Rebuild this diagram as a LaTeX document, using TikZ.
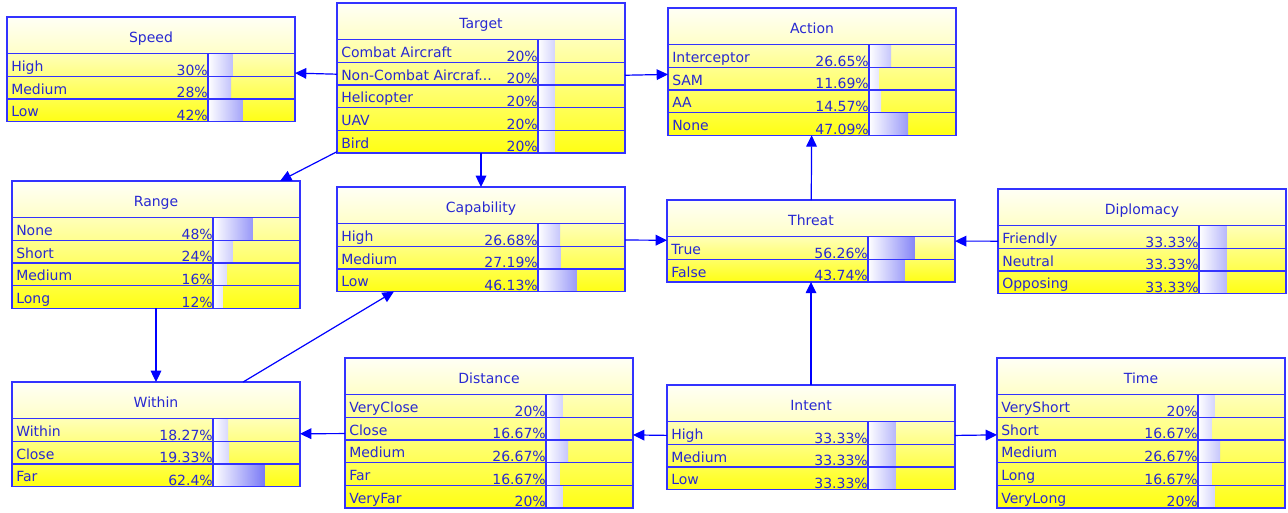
\documentclass[tikz,border=0pt]{standalone}
\usepackage{fontspec}
\setmainfont{DejaVu Sans}
\usetikzlibrary{arrows.meta,calc}
\definecolor{boxblue}{RGB}{51,51,255}
\definecolor{txtblue}{RGB}{40,40,210}
\definecolor{linkblue}{RGB}{0,0,255}
\definecolor{hdtop}{RGB}{255,255,246}
\definecolor{hdbot}{RGB}{255,255,200}
\definecolor{rowtop}{RGB}{255,255,185}
\definecolor{rowbot}{RGB}{255,255,20}
\definecolor{barblue}{RGB}{30,30,240}
\newcommand{\ncaf}{Non-Combat Aircraf...}
\tikzset{
  boxnode/.style={draw=boxblue, line width=1pt, rectangle, inner sep=0pt, outer sep=0pt},
  rowline/.style={draw=boxblue, line width=0.9pt},
  lbl/.style={text=txtblue, inner sep=0pt, font=\fontsize{10.5}{12}\selectfont},
  conn/.style={draw=linkblue, line width=0.9pt, -{Triangle[length=8.5pt,width=8pt]}}
}
\newcommand{\bnbox}[6]{%
  \pgfmathsetmacro{\bnbot}{#3+36.5+22.7*#4}%
  \pgfmathsetmacro{\bnh}{(36.5+22.7*#4)*0.75}%
  \shade[top color=hdtop, bottom color=hdbot] (#2,#3) rectangle (#2+288,#3+36.5);
  \shade[top color=rowtop, bottom color=rowbot] (#2,#3+36.5) rectangle (#2+288,\bnbot);
  \foreach \lab/\pct/\fr [count=\i from 0] in {#6} {
    \pgfmathsetmacro{\ry}{#3+36.5+22.7*\i}
    \begin{scope}
      \clip (#2+201,\ry) rectangle (#2+201+83*\fr,\ry+22.7);
      \shade[left color=white, right color=barblue] (#2+201,\ry) rectangle (#2+288,\ry+22.7);
    \end{scope}
    \draw[rowline] (#2,\ry) -- (#2+288,\ry);
    \node[lbl, anchor=base west] at (#2+4,\ry+18) {\lab};
    \node[lbl, anchor=base east] at (#2+201,\ry+21.5) {\pct};
  }
  \draw[rowline] (#2+201,#3+36.5) -- (#2+201,\bnbot);
  \node[boxnode, minimum width=216pt, minimum height=\bnh pt, anchor=north west] (#1) at (#2,#3) {};
  \node[lbl, anchor=base] (#1-title) at (#2+144,#3+25) {#5};
}
\begin{document}
\begin{tikzpicture}[x=0.75pt, y=-0.75pt]
\useasboundingbox (0,0) rectangle (1288,512);
\bnbox{speed}{7}{17}{3}{Speed}{High/30\%/0.30, Medium/28\%/0.28, Low/42\%/0.42}
\bnbox{target}{337}{3}{5}{Target}{Combat Aircraft/20\%/0.20, \ncaf/20\%/0.20, Helicopter/20\%/0.20, UAV/20\%/0.20, Bird/20\%/0.20}
\bnbox{action}{668}{8}{4}{Action}{Interceptor/26.65\%/0.2665, SAM/11.69\%/0.1169, AA/14.57\%/0.1457, None/47.09\%/0.4709}
\bnbox{range}{12}{181}{4}{Range}{None/48\%/0.48, Short/24\%/0.24, Medium/16\%/0.16, Long/12\%/0.12}
\bnbox{capability}{337}{187}{3}{Capability}{High/26.68\%/0.2668, Medium/27.19\%/0.2719, Low/46.13\%/0.4613}
\bnbox{threat}{667}{200}{2}{Threat}{True/56.26\%/0.5626, False/43.74\%/0.4374}
\bnbox{diplomacy}{998}{189}{3}{Diplomacy}{Friendly/33.33\%/0.3333, Neutral/33.33\%/0.3333, Opposing/33.33\%/0.3333}
\bnbox{within}{12}{382}{3}{Within}{Within/18.27\%/0.1827, Close/19.33\%/0.1933, Far/62.4\%/0.624}
\bnbox{distance}{345}{358}{5}{Distance}{VeryClose/20\%/0.20, Close/16.67\%/0.1667, Medium/26.67\%/0.2667, Far/16.67\%/0.1667, VeryFar/20\%/0.20}
\bnbox{intent}{667}{385}{3}{Intent}{High/33.33\%/0.3333, Medium/33.33\%/0.3333, Low/33.33\%/0.3333}
\bnbox{time}{997}{358}{5}{Time}{VeryShort/20\%/0.20, Short/16.67\%/0.1667, Medium/26.67\%/0.2667, Long/16.67\%/0.1667, VeryLong/20\%/0.20}
\draw[conn] (target) -- (speed);
\draw[conn] (target) -- (action);
\draw[conn] (target) -- (range);
\draw[conn] (target) -- (capability);
\draw[conn] (capability) -- (threat);
\draw[conn] (diplomacy) -- (threat);
\draw[conn] (threat) -- (action);
\draw[conn] (intent) -- (threat);
\draw[conn] (intent) -- (distance);
\draw[conn] (intent) -- (time);
\draw[conn] (distance) -- (within);
\draw[conn] (range) -- (within);
\draw[conn] (within) -- (capability);
\end{tikzpicture}
\end{document}
